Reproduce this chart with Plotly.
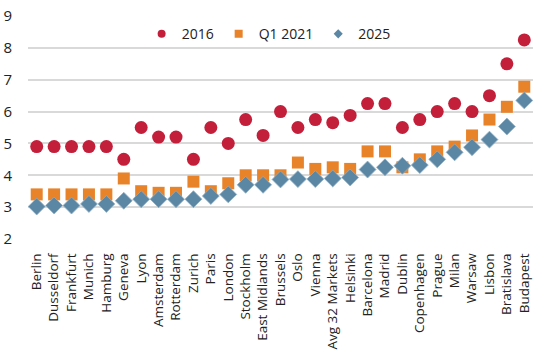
import plotly.graph_objects as go

cities = ["Berlin", "Dusseldorf", "Frankfurt", "Munich", "Hamburg", "Geneva", "Lyon",
          "Amsterdam", "Rotterdam", "Zurich", "Paris", "London", "Stockholm", "East Midlands",
          "Brussels", "Oslo", "Vienna", "Avg 32 Markets", "Helsinki", "Barcelona", "Madrid",
          "Dublin", "Copenhagen", "Prague", "Milan", "Warsaw", "Lisbon", "Bratislava", "Budapest"]

y2016 = [4.9, 4.9, 4.9, 4.9, 4.9, 4.5, 5.5, 5.2, 5.2, 4.5, 5.5, 5.0, 5.75, 5.25,
         6.0, 5.5, 5.75, 5.65, 5.88, 6.25, 6.25, 5.5, 5.75, 6.0, 6.25, 6.0, 6.5, 7.5, 8.25]
yq12021 = [3.4, 3.4, 3.4, 3.4, 3.4, 3.9, 3.5, 3.45, 3.45, 3.8, 3.5, 3.75, 4.0, 4.0,
           4.0, 4.4, 4.2, 4.25, 4.2, 4.75, 4.75, 4.25, 4.5, 4.75, 4.9, 5.25, 5.75, 6.15, 6.78]
y2025 = [3.02, 3.05, 3.05, 3.1, 3.1, 3.2, 3.25, 3.25, 3.25, 3.25, 3.35, 3.4, 3.7, 3.7,
         3.87, 3.88, 3.88, 3.9, 3.93, 4.18, 4.25, 4.3, 4.32, 4.5, 4.72, 4.88, 5.12, 5.53, 6.35]

series_names = ["2016", "Q1 2021", "2025"]
series_values = [y2016, yq12021, y2025]
symbols = ["circle", "square", "diamond"]
colors = ["#c41f3a", "#e8832a", "#5b87a4"]
sizes = [13, 12, 13]
legend_sizes = [8, 8, 7]

font_family = "'Open Sans', sans-serif"
text_color = "#222222"

fig = go.Figure()
for name, vals, sym, col, sz in zip(series_names, series_values, symbols, colors, sizes):
    line = dict(color="#8fb0c4", width=0.8) if sym == "diamond" else dict(width=0)
    fig.add_trace(go.Scatter(x=cities, y=vals, mode="markers", name=name, showlegend=False,
                             marker=dict(symbol=sym, size=sz, color=col, line=line)))
# legend entries with small markers (no data)
for name, sym, col, lsz in zip(series_names, symbols, colors, legend_sizes):
    fig.add_trace(go.Scatter(x=[None], y=[None], mode="markers", name=name,
                             marker=dict(symbol=sym, size=lsz, color=col)))

fig.update_layout(
    width=552, height=352,
    margin=dict(l=28, r=19, t=16, b=113),
    paper_bgcolor="white", plot_bgcolor="white",
    font=dict(family=font_family, size=13, color=text_color),
    showlegend=True,
    legend=dict(orientation="h", x=0.225, y=0.99, xanchor="left", yanchor="top",
                font=dict(size=14, color=text_color), itemsizing="trace",
                bgcolor="rgba(0,0,0,0)", itemwidth=30, tracegroupgap=0),
    xaxis=dict(type="category", tickangle=-90, showgrid=False, showline=False,
               ticks="outside", ticklen=8, tickcolor="rgba(0,0,0,0)", automargin=False,
               tickfont=dict(size=13.5, color=text_color), range=[-0.5, 28.5]),
    yaxis=dict(range=[2, 9], dtick=1, showgrid=True, gridcolor="#d9d9d9", gridwidth=2,
               zeroline=False, showline=False, ticks="outside", ticklen=12, automargin=False,
               tickcolor="rgba(0,0,0,0)", tickfont=dict(size=15, color=text_color)),
)

fig.write_html("out.html")
